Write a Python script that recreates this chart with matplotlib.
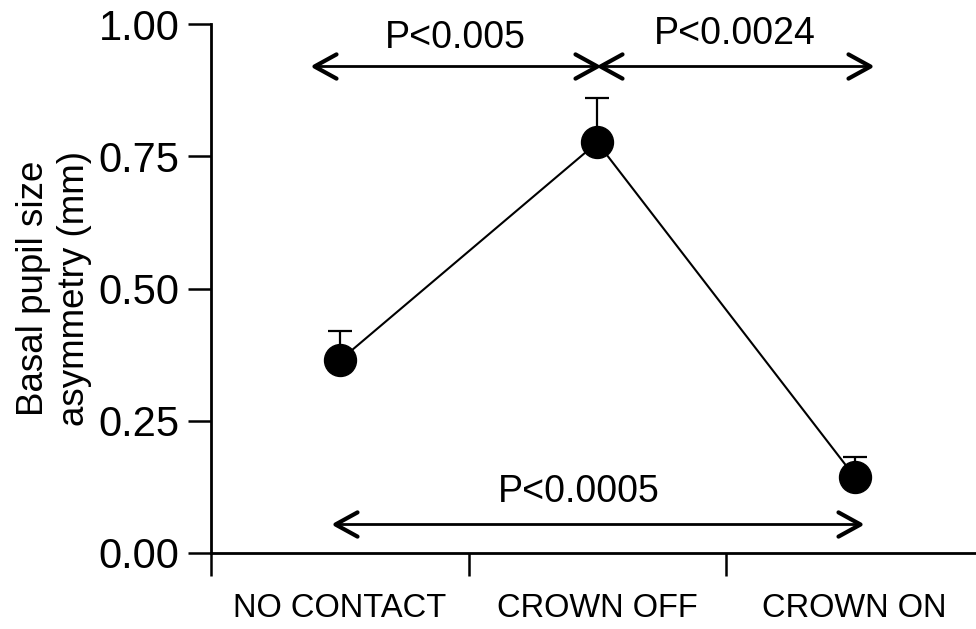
import matplotlib
matplotlib.use("Agg")
import matplotlib.pyplot as plt
from matplotlib.path import Path
from matplotlib.markers import MarkerStyle

plt.rcParams['font.family'] = ['Liberation Sans', 'DejaVu Sans']

categories = ["NO CONTACT", "CROWN OFF", "CROWN ON"]
means = [0.364, 0.776, 0.144]
sem_upper = [0.056, 0.084, 0.038]
y_ticks = [0.0, 0.25, 0.50, 0.75, 1.00]
y_tick_labels = ["0.00", "0.25", "0.50", "0.75", "1.00"]
ylabel = "Basal pupil size\nasymmetry (mm)"

# significance brackets: (x_start, x_end, y_arrow, label, x_text, y_text)
comparisons = [
    (-0.10, 1.00, 0.921, "P<0.005", 0.45, 0.973),
    (1.01, 2.06, 0.921, "P<0.0024", 1.535, 0.981),
    (-0.02, 2.02, 0.055, "P<0.0005", 0.93, 0.116),
]

W, H = 976, 629
fig = plt.figure(figsize=(W / 100, H / 100), dpi=100)
ax = fig.add_axes([211 / W, (H - 553) / H, 772.5 / W, 529 / H])

x = list(range(len(categories)))
ax.errorbar(x, means, yerr=[[0] * len(x), sem_upper], fmt='none', ecolor='black',
            elinewidth=1.6, capsize=8.3, capthick=1.6, zorder=2)
ax.plot(x, means, color='black', lw=1.5, zorder=3)
ax.plot(x, means, 'o', color='black', ms=23, zorder=4, clip_on=False)

ax.set_xlim(-0.5, 2.5)
ax.set_ylim(0, 1.0)

for s in ['top', 'right']:
    ax.spines[s].set_visible(False)
for s in ['left', 'bottom']:
    ax.spines[s].set_linewidth(2.0)

ax.set_yticks(y_ticks)
ax.set_yticklabels(y_tick_labels, fontsize=30)
ax.tick_params(axis='y', length=16.5, width=1.8, pad=6)

ax.set_xticks(x)
ax.set_xticklabels(categories, fontsize=23.5)
ax.tick_params(axis='x', which='major', length=0, pad=29)
ax.set_xticks([-0.5, 0.5, 1.5, 2.5], minor=True)
ax.tick_params(axis='x', which='minor', length=16.5, width=1.8)

fig.text(54 / W, 1 - 288 / H, ylabel, rotation=90, ha='center', va='center',
         fontsize=26.5, linespacing=1.25)

# arrow heads as V-shaped markers (tip at path origin)
left_head = MarkerStyle(Path([(2, 1.1), (0, 0), (2, -1.1)],
                             [Path.MOVETO, Path.LINETO, Path.LINETO]),
                        capstyle='round', joinstyle='miter')
right_head = MarkerStyle(Path([(-2, 1.1), (0, 0), (-2, -1.1)],
                              [Path.MOVETO, Path.LINETO, Path.LINETO]),
                         capstyle='round', joinstyle='miter')

for (x0, x1, ya, lab, xt, yt) in comparisons:
    ax.plot([x0, x1], [ya, ya], color='black', lw=2.0, clip_on=False,
            solid_capstyle='butt')
    ax.plot([x0], [ya], marker=left_head, ms=31.7, mew=3.0, mec='black',
            mfc='none', linestyle='none', clip_on=False)
    ax.plot([x1], [ya], marker=right_head, ms=31.7, mew=3.0, mec='black',
            mfc='none', linestyle='none', clip_on=False)
    ax.text(xt, yt, lab, ha='center', va='center', fontsize=27)

fig.savefig("out.png", dpi=100)
